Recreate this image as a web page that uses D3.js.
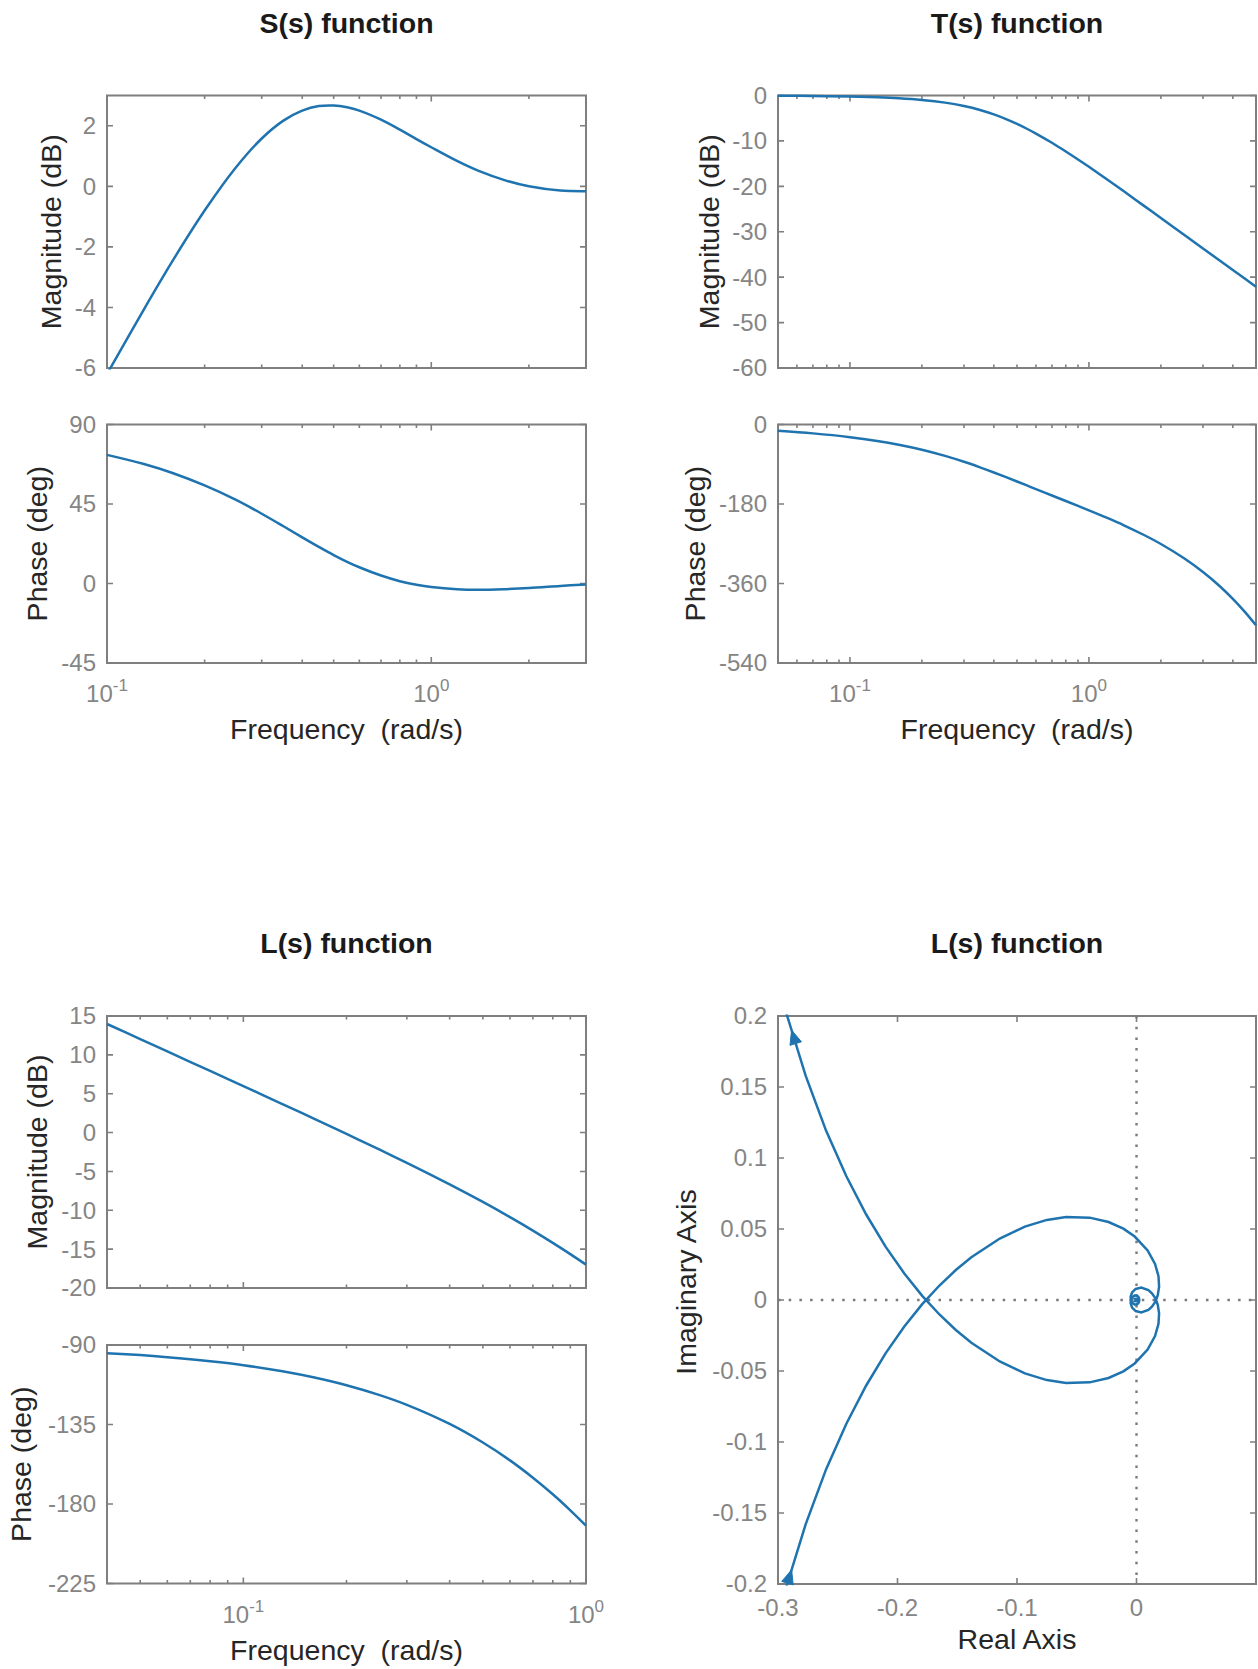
<!DOCTYPE html>
<html>
<head>
<meta charset="utf-8">
<script src="https://cdn.jsdelivr.net/npm/d3@7"></script>
<style>
  body { margin: 0; background: #fff; }
  svg text { font-family: "Liberation Sans", Arial, Helvetica, sans-serif; }
  .tick-label { fill: #858585; font-size: 24px; }
  .axis-label { fill: #262626; font-size: 28.5px; }
  .title { fill: #1a1a1a; font-size: 28.5px; font-weight: bold; }
</style>
</head>
<body>
<div id="figure"></div>
<script>
// ---- S(s) bode data ----
var sFreq  = [0.1, 0.13, 0.16, 0.2, 0.25, 0.3, 0.35, 0.4, 0.45, 0.5, 0.55, 0.6, 0.7, 0.8, 0.9, 1.0, 1.2, 1.4, 1.7, 2.0, 2.5, 3.0];
var sMag   = [-6.20, -4.06, -2.43, -0.80, 0.63, 1.58, 2.17, 2.50, 2.65, 2.67, 2.61, 2.50, 2.20, 1.87, 1.56, 1.29, 0.84, 0.51, 0.19, 0.00, -0.14, -0.16];
var sPhase = [72.8, 67.6, 62.4, 55.5, 47.3, 39.5, 32.4, 26.1, 20.7, 16.1, 12.3, 9.2, 4.5, 1.3, -0.7, -2.0, -3.3, -3.6, -3.2, -2.6, -1.4, -0.5];

// ---- T(s) bode data ----
var tFreq  = [0.05, 0.07, 0.1, 0.13, 0.16, 0.2, 0.25, 0.3, 0.35, 0.4, 0.45, 0.5, 0.55, 0.6, 0.7, 0.8, 0.9, 1.0, 1.2, 1.4, 1.7, 2.0, 2.5, 3.0, 3.5, 4.0, 4.5, 5.0];
var tMag   = [-0.05, -0.11, -0.23, -0.39, -0.60, -0.97, -1.57, -2.32, -3.19, -4.16, -5.19, -6.25, -7.32, -8.38, -10.41, -12.32, -14.08, -15.70, -18.60, -21.10, -24.30, -26.99, -30.68, -33.68, -36.22, -38.41, -40.35, -42.10];
var tPhase = [-14.3, -20.1, -28.7, -37.3, -45.9, -57.2, -71.1, -84.4, -97.0, -108.6, -119.3, -129.1, -138.0, -146.2, -160.7, -173.2, -184.3, -194.3, -212.2, -228.2, -250.2, -270.6, -302.9, -334.0, -364.5, -394.8, -424.8, -454.7];

// ---- L(s) bode data ----
var lFreq  = [0.04, 0.05, 0.06, 0.08, 0.1, 0.13, 0.16, 0.2, 0.25, 0.3, 0.4, 0.5, 0.6, 0.7, 0.8, 0.9, 1.0];
var lMag   = [13.97, 12.03, 10.44, 7.93, 5.98, 3.67, 1.83, -0.17, -2.20, -3.90, -6.67, -8.93, -10.88, -12.61, -14.19, -15.64, -16.99];
var lPhase = [-94.6, -95.7, -96.9, -99.2, -101.4, -104.9, -108.3, -112.8, -118.4, -123.9, -134.7, -145.2, -155.3, -165.1, -174.5, -183.6, -192.3];

// ---- L(s) nyquist, positive frequencies (negative branch is the mirror image) ----
var nyqRe = [-0.3105, -0.2938, -0.2768, -0.2598, -0.2428, -0.2262, -0.2100, -0.1943, -0.1793, -0.1649, -0.1512, -0.1382,
             -0.1144, -0.0934, -0.0750, -0.0590, -0.0392, -0.0234, -0.0110, -0.0015, 0.0093, 0.0155, 0.0184, 0.0189,
             0.0178, 0.0157, 0.0129, 0.0099, 0.0040, -0.0007, -0.0037, -0.0049, -0.0047, -0.0034, -0.0016, 0.0001,
             0.0014, 0.0021, 0.0022, 0.0018, -0.0011, 0.0006];
var nyqIm = [-0.2605, -0.2041, -0.1578, -0.1193, -0.0871, -0.0602, -0.0376, -0.0187, -0.0029, 0.0102, 0.0211, 0.0301,
             0.0433, 0.0517, 0.0564, 0.0584, 0.0580, 0.0549, 0.0502, 0.0447, 0.0349, 0.0254, 0.0168, 0.0094,
             0.0034, -0.0013, -0.0047, -0.0070, -0.0088, -0.0078, -0.0053, -0.0024, 0.0003, 0.0022, 0.0031, 0.0031,
             0.0024, 0.0013, 0.0001, -0.0009, -0.0008, 0.0006];
var arrowLevel = 0.19;   // |Imag| where the direction arrows sit

// ---- axis ranges and tick values ----
var sFreqRange = [0.1, 3], tFreqRange = [0.05, 5], lFreqRange = [0.04, 1];
var sMagRange = [-6, 3], sPhaseRange = [-45, 90];
var tMagRange = [-60, 0], tPhaseRange = [-540, 0];
var lMagRange = [-20, 15], lPhaseRange = [-225, -90];
var nyqXRange = [-0.3, 0.1], nyqYRange = [-0.2, 0.2];

var sMagTicks = [-6, -4, -2, 0, 2];
var sPhaseTicks = [-45, 0, 45, 90];
var tMagTicks = [-60, -50, -40, -30, -20, -10, 0];
var tPhaseTicks = [-540, -360, -180, 0];
var lMagTicks = [-20, -15, -10, -5, 0, 5, 10, 15];
var lPhaseTicks = [-225, -180, -135, -90];
var nyqXTicks = [-0.3, -0.2, -0.1, 0];
var nyqYTicks = [-0.2, -0.15, -0.1, -0.05, 0, 0.05, 0.1, 0.15, 0.2];

// ---- figure ----
var svgWidth = 1258;
var svgHeight = 1669;
var lineColor = "#1f74b0";
var boxColor = "#7f7f7f";
var majorLen = 6, minorLen = 3.5;

var svg = d3.select("#figure")
    .append("svg")
    .attr("width", svgWidth)
    .attr("height", svgHeight);

svg.append("rect")
    .attr("width", svgWidth)
    .attr("height", svgHeight)
    .attr("fill", "#fff");

var clipCount = 0;

// box, clip and a group for one axes
function makeAxes(cfg) {
    var g = svg.append("g");
    var id = "clip" + (clipCount++);
    svg.append("clipPath").attr("id", id)
        .append("rect")
        .attr("x", cfg.left - 1.5)
        .attr("y", cfg.top - 1.5)
        .attr("width", cfg.right - cfg.left + 3)
        .attr("height", cfg.bottom - cfg.top + 3);

    g.append("rect")
        .attr("x", cfg.left)
        .attr("y", cfg.top)
        .attr("width", cfg.right - cfg.left)
        .attr("height", cfg.bottom - cfg.top)
        .attr("fill", "none")
        .attr("stroke", boxColor)
        .attr("stroke-width", 2);
    g.clip = "url(#" + id + ")";
    return g;
}

function xTickMarks(g, cfg, xs, len) {
    g.selectAll(null).data(xs).enter().append("path")
        .attr("d", d => `M${d},${cfg.bottom}V${cfg.bottom - len}M${d},${cfg.top}V${cfg.top + len}`)
        .attr("stroke", boxColor)
        .attr("stroke-width", 1.6);
}

function yTickMarks(g, cfg, ys, len) {
    g.selectAll(null).data(ys).enter().append("path")
        .attr("d", d => `M${cfg.left},${d}H${cfg.left + len}M${cfg.right},${d}H${cfg.right - len}`)
        .attr("stroke", boxColor)
        .attr("stroke-width", 1.6);
}

function yTickLabels(g, cfg, y, ticks) {
    g.selectAll(null).data(ticks).enter().append("text")
        .attr("class", "tick-label")
        .attr("x", cfg.left - 11)
        .attr("y", d => y(d))
        .attr("dy", "0.35em")
        .attr("text-anchor", "end")
        .text(d => String(d));
}

function yAxisLabel(g, cfg, text) {
    var cy = (cfg.top + cfg.bottom) / 2 + (cfg.yLabelShift || 0);
    g.append("text")
        .attr("class", "axis-label")
        .attr("transform", `translate(${cfg.yLabelX}, ${cy}) rotate(-90)`)
        .attr("dy", "0.35em")
        .attr("text-anchor", "middle")
        .text(text);
}

function xAxisLabel(g, cfg, text, yPos) {
    g.append("text")
        .attr("class", "axis-label")
        .attr("x", (cfg.left + cfg.right) / 2)
        .attr("y", yPos)
        .attr("text-anchor", "middle")
        .attr("xml:space", "preserve")
        .style("white-space", "pre")
        .text(text);
}

function title(cfg, text, yPos) {
    svg.append("text")
        .attr("class", "title")
        .attr("x", (cfg.left + cfg.right) / 2)
        .attr("y", yPos)
        .attr("text-anchor", "middle")
        .text(text);
}

// one bode panel (magnitude or phase)
function bodePanel(cfg) {
    var x = d3.scaleLog().domain(cfg.xRange).range([cfg.left, cfg.right]);
    var y = d3.scaleLinear().domain(cfg.yRange).range([cfg.bottom, cfg.top]);
    var g = makeAxes(cfg);

    // decade and minor ticks of the log axis
    var majors = [], minors = [];
    var lo = Math.floor(Math.log10(cfg.xRange[0]));
    var hi = Math.ceil(Math.log10(cfg.xRange[1]));
    for (var e = lo; e <= hi; e++) {
        for (var k = 1; k <= 9; k++) {
            var v = k * Math.pow(10, e);
            if (v < cfg.xRange[0] * 0.999 || v > cfg.xRange[1] * 1.001) continue;
            if (k == 1) majors.push(v); else minors.push(v);
        }
    }
    xTickMarks(g, cfg, majors.map(x), majorLen);
    xTickMarks(g, cfg, minors.map(x), minorLen);
    yTickMarks(g, cfg, cfg.yTicks.map(y), majorLen);
    yTickLabels(g, cfg, y, cfg.yTicks);
    yAxisLabel(g, cfg, cfg.yLabel);

    if (cfg.showX) {
        var lab = g.selectAll(null).data(majors).enter().append("text")
            .attr("class", "tick-label")
            .attr("x", d => x(d))
            .attr("y", cfg.bottom + 39)
            .attr("text-anchor", "middle");
        lab.append("tspan").text("10");
        lab.append("tspan")
            .attr("dy", -11)
            .style("font-size", "17px")
            .text(d => String(Math.round(Math.log10(d))));
        xAxisLabel(g, cfg, "Frequency  (rad/s)", cfg.bottom + 76);
    }

    var line = d3.line()
        .x(d => x(d[0]))
        .y(d => y(d[1]))
        .curve(d3.curveCatmullRom.alpha(0.5));

    g.append("path")
        .datum(d3.zip(cfg.freq, cfg.values))
        .attr("d", line)
        .attr("clip-path", g.clip)
        .attr("fill", "none")
        .attr("stroke", lineColor)
        .attr("stroke-width", 2.5);
}

// ---- layout ----
var colL = {left: 107, right: 586};
var colR = {left: 778, right: 1256};

bodePanel({left: colL.left, right: colL.right, top: 95.5, bottom: 368, xRange: sFreqRange, yRange: sMagRange,
    yTicks: sMagTicks, freq: sFreq, values: sMag, yLabel: "Magnitude (dB)", yLabelX: 51});
bodePanel({left: colL.left, right: colL.right, top: 424.5, bottom: 663, xRange: sFreqRange, yRange: sPhaseRange,
    yTicks: sPhaseTicks, freq: sFreq, values: sPhase, yLabel: "Phase (deg)", yLabelX: 37, showX: true});
title(colL, "S(s) function", 33);

bodePanel({left: colR.left, right: colR.right, top: 95.5, bottom: 368, xRange: tFreqRange, yRange: tMagRange,
    yTicks: tMagTicks, freq: tFreq, values: tMag, yLabel: "Magnitude (dB)", yLabelX: 709});
bodePanel({left: colR.left, right: colR.right, top: 424.5, bottom: 663, xRange: tFreqRange, yRange: tPhaseRange,
    yTicks: tPhaseTicks, freq: tFreq, values: tPhase, yLabel: "Phase (deg)", yLabelX: 695, showX: true});
title(colR, "T(s) function", 33);

bodePanel({left: colL.left, right: colL.right, top: 1016, bottom: 1288, xRange: lFreqRange, yRange: lMagRange,
    yTicks: lMagTicks, freq: lFreq, values: lMag, yLabel: "Magnitude (dB)", yLabelX: 37});
bodePanel({left: colL.left, right: colL.right, top: 1345, bottom: 1583.5, xRange: lFreqRange, yRange: lPhaseRange,
    yTicks: lPhaseTicks, freq: lFreq, values: lPhase, yLabel: "Phase (deg)", yLabelX: 21, showX: true});
title(colL, "L(s) function", 953);

// ---- Nyquist panel ----
var nyq = {left: colR.left, right: colR.right, top: 1016, bottom: 1584, yLabelX: 686, yLabelShift: -18};
var xN = d3.scaleLinear().domain(nyqXRange).range([nyq.left, nyq.right]);
var yN = d3.scaleLinear().domain(nyqYRange).range([nyq.bottom, nyq.top]);
var gN = makeAxes(nyq);

xTickMarks(gN, nyq, nyqXTicks.map(xN), majorLen);
yTickMarks(gN, nyq, nyqYTicks.map(yN), majorLen);
yTickLabels(gN, nyq, yN, nyqYTicks);

gN.selectAll(null).data(nyqXTicks).enter().append("text")
    .attr("class", "tick-label")
    .attr("x", d => xN(d))
    .attr("y", nyq.bottom + 32)
    .attr("text-anchor", "middle")
    .text(d => String(d));

yAxisLabel(gN, nyq, "Imaginary Axis");
xAxisLabel(gN, nyq, "Real Axis", nyq.bottom + 65);
title(nyq, "L(s) function", 953);

// dotted zero lines
gN.append("path")
    .attr("d", `M${nyq.left},${yN(0)}H${nyq.right}M${xN(0)},${nyq.top}V${nyq.bottom}`)
    .attr("stroke", "#7a7a7a")
    .attr("stroke-width", 2.4)
    .attr("stroke-dasharray", "2.5,8.2")
    .attr("fill", "none");

var nyqPts = d3.zip(nyqRe, nyqIm);
var nyqLine = d3.line().x(d => xN(d[0])).y(d => yN(d[1]));

// positive and mirrored negative frequency branches
[1, -1].forEach(function(sign) {
    gN.append("path")
        .datum(nyqPts)
        .attr("d", nyqLine.y(d => yN(sign * d[1])))
        .attr("clip-path", gN.clip)
        .attr("fill", "none")
        .attr("stroke", lineColor)
        .attr("stroke-width", 2.5);
});

// direction arrows where the branches pass |Imag| = arrowLevel
function arrowAt(p0, p1) {
    // p0 -> p1 in screen coords, tip at p1
    var dx = p1[0] - p0[0], dy = p1[1] - p0[1];
    var n = Math.sqrt(dx * dx + dy * dy);
    dx /= n; dy /= n;
    var len = 14, hw = 6;
    var bx = p1[0] - dx * len, by = p1[1] - dy * len;
    gN.append("path")
        .attr("d", `M${p1[0]},${p1[1]}L${bx - dy * hw},${by + dx * hw}L${bx + dy * hw},${by - dx * hw}Z`)
        .attr("fill", lineColor)
        .attr("stroke", lineColor)
        .attr("stroke-width", 1);
}

for (var i = 0; i < nyqPts.length - 1; i++) {
    var a = nyqPts[i], b = nyqPts[i + 1];
    if (a[1] < -arrowLevel && b[1] >= -arrowLevel) {
        var t = (-arrowLevel - a[1]) / (b[1] - a[1]);
        var re = a[0] + t * (b[0] - a[0]);
        // positive branch travels upward
        arrowAt([xN(a[0]), yN(a[1])], [xN(re), yN(-arrowLevel)]);
        // mirrored branch travels outward (upward too)
        arrowAt([xN(b[0]), yN(-b[1])], [xN(re), yN(arrowLevel)]);
        break;
    }
}
</script>
</body>
</html>
